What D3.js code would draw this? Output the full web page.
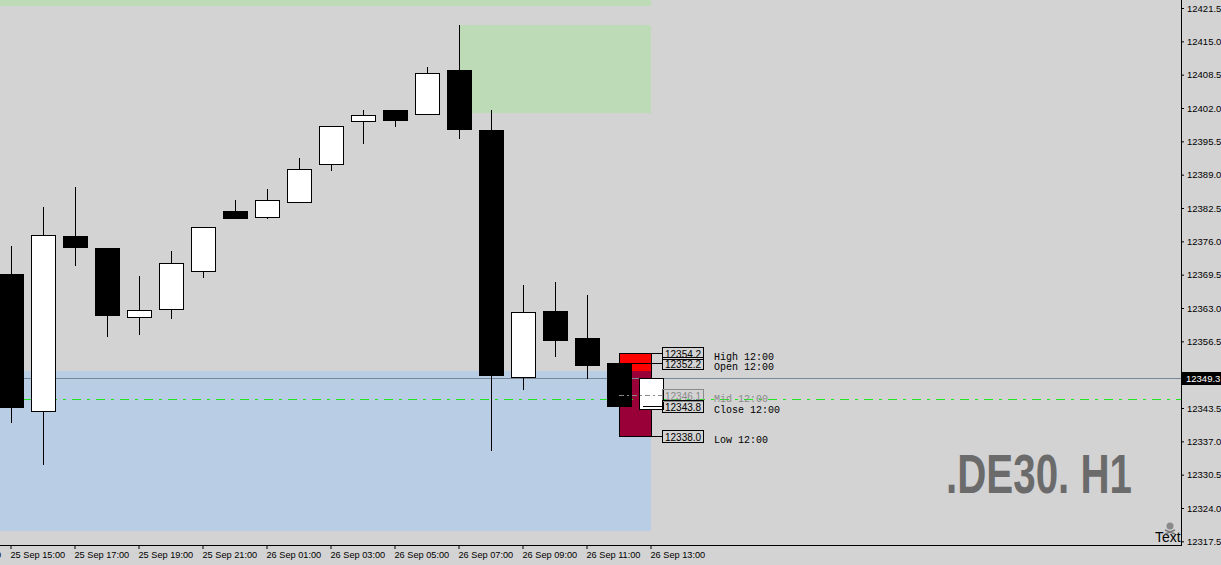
<!DOCTYPE html>
<html><head><meta charset="utf-8">
<script src="https://cdn.jsdelivr.net/npm/d3@7"></script>
<style>html,body{margin:0;padding:0;background:#d3d3d3;overflow:hidden}svg{display:block}</style>
</head><body>
<script>
// ---------- data ----------
const hours = ["25 Sep 13:00","25 Sep 14:00","25 Sep 15:00","25 Sep 16:00","25 Sep 17:00","25 Sep 18:00","25 Sep 19:00","25 Sep 20:00","25 Sep 21:00","25 Sep 22:00","26 Sep 01:00","26 Sep 02:00","26 Sep 03:00","26 Sep 04:00","26 Sep 05:00","26 Sep 06:00","26 Sep 07:00","26 Sep 08:00","26 Sep 09:00","26 Sep 10:00","26 Sep 11:00","26 Sep 12:00","26 Sep 13:00"];
const candleTimes = hours.slice(2);
const open  = [12369.6,12342.9,12377.0,12374.7,12361.2,12362.8,12370.2,12381.9,12380.8,12383.6,12391.0,12399.5,12401.6,12400.8,12409.4,12397.7,12349.6,12362.4,12357.2,12352.2,12343.3];
const high  = [12375.1,12382.7,12386.6,12374.7,12369.2,12374.1,12378.7,12384.1,12386.2,12392.3,12398.4,12401.6,12401.6,12410.0,12418.2,12401.6,12367.5,12368.1,12365.5,12354.2,12349.3];
const low   = [12340.8,12332.6,12371.3,12357.6,12358.0,12361.1,12369.1,12380.6,12380.6,12383.6,12390.0,12395.2,12398.4,12400.8,12396.2,12335.3,12347.3,12353.7,12349.4,12338.0,12343.3];
const close = [12343.6,12377.2,12374.8,12361.7,12362.6,12371.7,12378.7,12380.6,12384.0,12390.1,12398.4,12400.6,12399.7,12408.8,12398.0,12350.0,12362.2,12356.8,12351.8,12343.8,12349.3];

const yTicks = [12317.5,12324.0,12330.5,12337.0,12343.5,12356.5,12363.0,12369.5,12376.0,12382.5,12389.0,12395.5,12402.0,12408.5,12415.0,12421.5];
const xTickLabels = ["25 Sep 13:00","25 Sep 15:00","25 Sep 17:00","25 Sep 19:00","25 Sep 21:00","26 Sep 01:00","26 Sep 03:00","26 Sep 05:00","26 Sep 07:00","26 Sep 09:00","26 Sep 11:00","26 Sep 13:00"];

const zoneStart  = ["25 Sep 13:00","26 Sep 07:00","25 Sep 13:00"];
const zoneEnd    = ["26 Sep 13:00","26 Sep 13:00","26 Sep 13:00"];
const zoneTop    = [12440.0,12418.2,12350.7];
const zoneBottom = [12421.8,12401.0,12319.5];

const barTime = "26 Sep 12:00";
const nextTime = "26 Sep 13:00";
const levelNames  = ["High 12:00","Open 12:00","Mid 12:00","Close 12:00","Low 12:00"];
const levelValues = [12354.2,12352.2,12346.1,12343.8,12338.0];

const currentPrice = 12349.3;
const dashLevel = 12345.25;
const watermark = ".DE30. H1";
const cornerText = "Text";

// ---------- styles ----------
const W = 1221, H = 565, plotRight = 1181, axisY = 545;
const zoneColors = ["#bddbb7","#bddbb7","#b9cde5"];
const bg = "#d3d3d3";
const axisFont = "Liberation Sans";

const svg = d3.select("body").append("svg").attr("width",W).attr("height",H);
svg.append("rect").attr("width",W).attr("height",H).attr("fill",bg);

const x = d3.scaleBand().domain(hours).range([-69, -69 + 32*hours.length]).padding(0);
const cx = t => x(t) + x.bandwidth()/2;
const y = d3.scaleLinear().domain([12317.5,12421.5]).range([541.33,8]);

svg.append("defs").append("clipPath").attr("id","plot")
  .append("rect").attr("x",0).attr("y",0).attr("width",plotRight).attr("height",axisY);
const plot = svg.append("g").attr("clip-path","url(#plot)");

// zones
zoneStart.forEach((s,i)=>{
  plot.append("rect")
    .attr("x", Math.max(-10, cx(s))).attr("y", Math.round(y(zoneTop[i])))
    .attr("width", cx(zoneEnd[i]) - Math.max(-10, cx(s)))
    .attr("height", Math.round(y(zoneBottom[i])) - Math.round(y(zoneTop[i])))
    .attr("fill", zoneColors[i]);
});

// high-low box of the 12:00 bar
const bx0 = cx(barTime), bx1 = cx(nextTime);
const byTop = Math.round(y(levelValues[0])), byBot = Math.round(y(levelValues[4]));
plot.append("rect").attr("x",bx0+0.5).attr("y",byTop+0.5).attr("width",bx1-bx0).attr("height",byBot-byTop)
  .attr("fill","#ff0000").attr("stroke","#000").attr("stroke-width",1);
const blueTop = Math.round(y(zoneTop[2]));
plot.append("rect").attr("x",bx0+1).attr("y",Math.max(byTop+1,blueTop)).attr("width",bx1-bx0-1)
  .attr("height",byBot - Math.max(byTop+1,blueTop))
  .attr("fill","#990038");

// price line
plot.append("line").attr("x1",0).attr("x2",plotRight).attr("y1",Math.round(y(currentPrice))+0.5).attr("y2",Math.round(y(currentPrice))+0.5)
  .attr("stroke","#778899").attr("stroke-width",1);
// green dash-dot line
plot.append("line").attr("x1",0).attr("x2",plotRight).attr("y1",Math.round(y(dashLevel))+0.5).attr("y2",Math.round(y(dashLevel))+0.5)
  .attr("stroke","#22e522").attr("stroke-width",1).attr("stroke-dasharray","9,6,3,6");

// candles
const candles = candleTimes.map((t,i)=>({t,o:open[i],h:high[i],l:low[i],c:close[i]}));
const cg = plot.append("g").attr("shape-rendering","crispEdges");
candles.forEach(d=>{
  const col = Math.floor(cx(d.t));
  cg.append("line").attr("x1",col+0.5).attr("x2",col+0.5)
    .attr("y1",Math.round(y(d.h))).attr("y2",Math.round(y(d.l))+1).attr("stroke","#000");
  const top = Math.round(y(Math.max(d.o,d.c))), bot = Math.round(y(Math.min(d.o,d.c)));
  if (d.c < d.o) {
    cg.append("rect").attr("x",col-12).attr("y",top).attr("width",25).attr("height",Math.max(1,bot-top+1)).attr("fill","#000");
  } else {
    cg.append("rect").attr("x",col-11.5).attr("y",top+0.5).attr("width",24).attr("height",Math.max(1,bot-top))
      .attr("fill","#fff").attr("stroke","#000").attr("stroke-width",1);
  }
});

// connectors and level labels
const boxX = 662;
const lg = svg.append("g");
levelValues.forEach((v,i)=>{
  const ly = Math.round(y(v));
  const isMid = levelNames[i].startsWith("Mid");
  if (isMid) {
    lg.append("line").attr("x1",bx0).attr("x2",boxX).attr("y1",ly+0.5).attr("y2",ly+0.5)
      .attr("stroke","#8a8a8a").attr("stroke-dasharray","5,3,2,3");
  } else {
    lg.append("line").attr("x1", i===0||i===4 ? bx1 : (i===1?bx0+13:bx0+24)).attr("x2",boxX).attr("y1",ly+0.5).attr("y2",ly+0.5)
      .attr("stroke","#000");
  }
  let boxY = ly - 6;
  lg.append("rect").attr("x",boxX+0.5).attr("y",boxY+0.5).attr("width",41).attr("height",12)
    .attr("fill","none").attr("stroke", isMid ? "#8a8a8a" : "#000");
  lg.append("text").attr("x",boxX+3).attr("y",boxY+10.5)
    .attr("font-family","Liberation Sans").attr("font-size",10)
    .attr("fill", isMid ? "#8a8a8a" : "#000").text(v.toFixed(1));
  lg.append("text").attr("x",714).attr("y",ly+6.5)
    .attr("font-family","Liberation Mono").attr("font-size",10)
    .attr("fill", isMid ? "#8a8a8a" : "#000").text(levelNames[i]);
});

// axes
const yAxis = d3.axisRight(y).tickValues(yTicks).tickSize(3).tickFormat(d3.format(".1f"));
const ya = svg.append("g").attr("transform",`translate(${plotRight},0)`).call(yAxis);
ya.select(".domain").remove();
ya.selectAll("text").attr("x",6).attr("font-family",axisFont).attr("font-size",9.5).attr("fill","#000");
ya.selectAll("line").attr("stroke","#000");

const xAxis = d3.axisBottom(x).tickValues(xTickLabels).tickSize(4).tickSizeOuter(0);
const xa = svg.append("g").attr("transform",`translate(0,${axisY})`).call(xAxis);
xa.select(".domain").remove();
xa.selectAll("text").attr("text-anchor","start").attr("x",-0.5).attr("y",6)
  .attr("font-family",axisFont).attr("font-size",9.2).attr("fill","#000");
xa.selectAll("line").attr("stroke","#000");

svg.append("line").attr("x1",plotRight+0.5).attr("x2",plotRight+0.5).attr("y1",0).attr("y2",axisY+1).attr("stroke","#000");
svg.append("line").attr("x1",0).attr("x2",plotRight+1).attr("y1",axisY+0.5).attr("y2",axisY+0.5).attr("stroke","#000");

// current price tag
const py = Math.round(y(currentPrice));
svg.append("rect").attr("x",plotRight+1).attr("y",py-6).attr("width",W-plotRight).attr("height",13).attr("fill","#000");
svg.append("text").attr("x",plotRight+5).attr("y",py+4).attr("font-family",axisFont).attr("font-size",9.5)
  .attr("fill","#fff").text(d3.format(".1f")(currentPrice));

// watermark
svg.append("text").attr("x",946).attr("y",493).attr("font-family","Liberation Sans").attr("font-weight","bold")
  .attr("font-size",56).attr("fill","#6b6b6b").attr("textLength",186).attr("lengthAdjust","spacingAndGlyphs").text(watermark);

// corner text + icon
const cg2 = svg.append("g").attr("clip-path","url(#plot)");
cg2.append("text").attr("x",1155).attr("y",541.5).attr("font-family","Liberation Sans").attr("font-size",14).attr("fill","#000").text(cornerText);
cg2.append("circle").attr("cx",1170).attr("cy",526).attr("r",3.5).attr("fill","#8a8a8a");
cg2.append("path").attr("d","M1165,530 L1175,534 M1175,530 L1165,534").attr("stroke","#7a7a7a").attr("stroke-width",1.5);
</script>
</body></html>
